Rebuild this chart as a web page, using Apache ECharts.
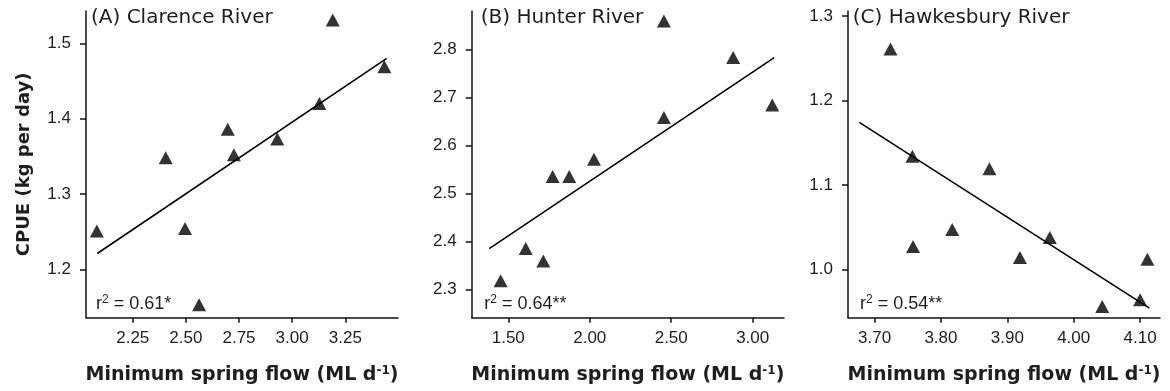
<!DOCTYPE html>
<html>
<head>
<meta charset="utf-8">
<script src="https://cdn.jsdelivr.net/npm/echarts@6/dist/echarts.min.js"></script>
<style>html,body{margin:0;padding:0;background:#fff}#c{width:1170px;height:391px}</style>
</head>
<body>
<div id="c"></div>
<script>
// ---- Data ----
const titles = ['(A) Clarence River', '(B) Hunter River', '(C) Hawkesbury River'];
const r2Labels = ['0.61*', '0.64**', '0.54**'];

const flowA = [2.081, 2.405, 2.496, 2.562, 2.697, 2.726, 2.930, 3.128, 3.191, 3.434];
const cpueA = [1.251, 1.348, 1.254, 1.153, 1.386, 1.352, 1.373, 1.420, 1.531, 1.469];
const fitXA = [2.083, 3.445];
const fitYA = [1.221, 1.480];

const flowB = [1.453, 1.607, 1.715, 1.772, 1.874, 2.026, 2.455, 2.455, 2.880, 3.120];
const cpueB = [2.318, 2.385, 2.359, 2.535, 2.535, 2.571, 2.658, 2.859, 2.783, 2.684];
const fitXB = [1.383, 3.132];
const fitYB = [2.385, 2.783];

const flowC = [3.724, 3.757, 3.758, 3.817, 3.873, 3.919, 3.964, 4.043, 4.100, 4.111];
const cpueC = [1.261, 1.134, 1.027, 1.047, 1.119, 1.014, 1.0375, 0.956, 0.964, 1.012];
const fitXC = [3.677, 4.114];
const fitYC = [1.174, 0.954];

const xTicksA = [2.25, 2.50, 2.75, 3.00, 3.25];
const xTicksB = [1.50, 2.00, 2.50, 3.00];
const xTicksC = [3.70, 3.80, 3.90, 4.00, 4.10];
const yTicksA = [1.2, 1.3, 1.4, 1.5];
const yTicksB = [2.3, 2.4, 2.5, 2.6, 2.7, 2.8];
const yTicksC = [1.0, 1.1, 1.2, 1.3];

const xRange = [[2.03, 3.498], [1.2755, 3.192], [3.660, 4.130]];
const yRange = [[1.1357, 1.543], [2.241, 2.880], [0.9426, 1.306]];

// ---- Build chart ----
const TXT = '#1e1e1e';
const pairs = (xs, ys) => xs.map((x, i) => [x, ys[i]]);
const flows = [flowA, flowB, flowC];
const cpues = [cpueA, cpueB, cpueC];
const fitX = [fitXA, fitXB, fitXC];
const fitY = [fitYA, fitYB, fitYC];
const xTicks = [xTicksA, xTicksB, xTicksC];
const yTicks = [yTicksA, yTicksB, yTicksC];

const gridLeft = [86, 471.7, 848];
const gridWidth = [312, 312.3, 312];

const grids = [], xAxes = [], yAxes = [], series = [], graphics = [];
for (let i = 0; i < 3; i++) {
  grids.push({left: gridLeft[i], width: gridWidth[i], top: 11, bottom: 73.3, containLabel: false});
  xAxes.push({
    type: 'value', gridIndex: i, min: xRange[i][0], max: xRange[i][1],
    splitLine: {show: false},
    axisLine: {show: true, lineStyle: {color: '#111', width: 1.5}},
    axisTick: {show: true, length: 5, inside: false, customValues: xTicks[i], lineStyle: {color: '#111', width: 1.5}},
    axisLabel: {customValues: xTicks[i], formatter: v => v.toFixed(2), color: TXT, fontSize: 17,
      fontFamily: 'Liberation Sans', margin: 12},
    name: 'Minimum spring flow (ML d{s|-1})', nameLocation: 'middle', nameGap: 47,
    nameTextStyle: {fontFamily: 'DejaVu Sans', fontWeight: 'bold', fontSize: 19, color: TXT,
      rich: {s: {fontFamily: 'DejaVu Sans', fontWeight: 'bold', fontSize: 12, color: TXT, verticalAlign: 'top', padding: [0, 0, 9, 0]}}}
  });
  yAxes.push({
    type: 'value', gridIndex: i, min: yRange[i][0], max: yRange[i][1],
    splitLine: {show: false},
    axisLine: {show: true, lineStyle: {color: '#111', width: 1.5}},
    axisTick: {show: true, length: 6, customValues: yTicks[i], lineStyle: {color: '#111', width: 1.5}},
    axisLabel: {customValues: yTicks[i], formatter: v => v.toFixed(1), color: TXT, fontSize: 17,
      fontFamily: 'Liberation Sans', margin: 15},
    name: i === 0 ? 'CPUE (kg per day)' : '', nameLocation: 'middle', nameGap: 53,
    nameTextStyle: {fontFamily: 'DejaVu Sans', fontWeight: 'bold', fontSize: 18, color: TXT}
  });
  series.push({
    type: 'scatter', xAxisIndex: i, yAxisIndex: i, data: pairs(flows[i], cpues[i]),
    symbol: 'triangle', symbolSize: [14, 13], itemStyle: {color: '#000'}, z: 3
  });
  series.push({
    type: 'line', xAxisIndex: i, yAxisIndex: i, data: pairs(fitX[i], fitY[i]),
    symbol: 'none', lineStyle: {color: '#000', width: 1.6}, z: 2
  });
}

const titleLeft = [91, 480.7, 852.7];
const r2Left = [96, 484.3, 860];
for (let i = 0; i < 3; i++) {
  graphics.push({
    type: 'text', left: titleLeft[i], top: 8,
    style: {text: titles[i], fontFamily: 'DejaVu Sans', fontSize: 20, fill: TXT}
  });
  graphics.push({
    type: 'text', left: r2Left[i], top: 294,
    style: {text: 'r{s|2} = ' + r2Labels[i], fontFamily: 'Liberation Sans', fontSize: 18, fill: TXT,
      rich: {s: {fontFamily: 'Liberation Sans', fontSize: 12, fill: TXT, verticalAlign: 'top', padding: [0, 0, 8, 0]}}}
  });
}

const chart = echarts.init(document.getElementById('c'), null, {renderer: 'canvas'});
chart.setOption({
  animation: false,
  backgroundColor: '#fff',
  grid: grids, xAxis: xAxes, yAxis: yAxes, series: series, graphic: graphics
});
</script>
</body>
</html>
